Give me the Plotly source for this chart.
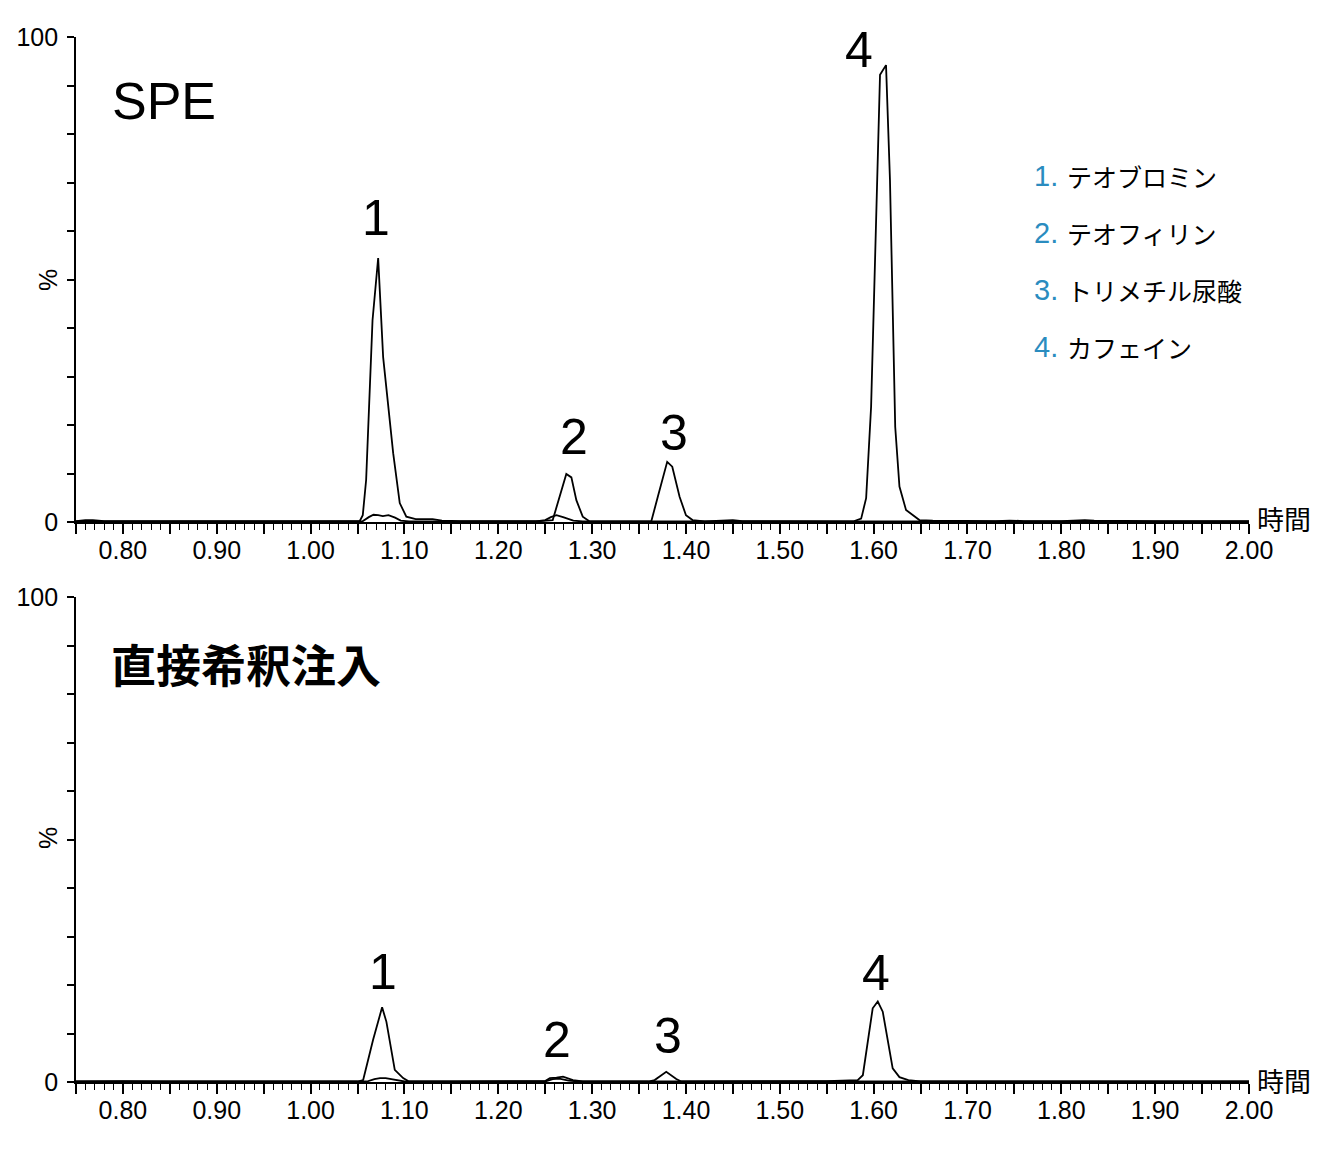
import plotly.graph_objects as go

# ---------------- data ----------------
# SPE panel, main trace (time [min], intensity [%])
spe_t = [0.750, 0.760, 0.768, 0.780, 0.850, 0.900, 0.950, 1.000, 1.045, 1.0524, 1.0556, 1.0592,
         1.066, 1.072, 1.0773, 1.088, 1.095, 1.102, 1.112, 1.130, 1.140, 1.160, 1.200, 1.245,
         1.258, 1.2654, 1.2725, 1.2779, 1.2832, 1.290, 1.2974, 1.310, 1.350, 1.363, 1.370, 1.380,
         1.3854, 1.3932, 1.400, 1.407, 1.420, 1.440, 1.450, 1.460, 1.500, 1.570, 1.578, 1.5867,
         1.592, 1.5973, 1.6068, 1.6132, 1.6174, 1.623, 1.6275, 1.6345, 1.6488, 1.663, 1.700,
         1.730, 1.745, 1.760, 1.800, 1.815, 1.825, 1.835, 1.870, 1.900, 1.950, 2.000]
spe_v = [0.2, 0.4, 0.4, 0.2, 0.2, 0.2, 0.2, 0.2, 0.2, 0.2, 1.4, 8.7,
         41.6, 54.4, 34.0, 14.2, 3.9, 1.1, 0.6, 0.6, 0.3, 0.2, 0.2, 0.2,
         0.4, 5.2, 9.9, 9.2, 4.5, 1.1, 0.1, 0.1, 0.1, 0.1, 5.2, 12.4,
         11.4, 5.2, 1.4, 0.4, 0.1, 0.2, 0.4, 0.2, 0.2, 0.1, 0.1, 0.7,
         4.9, 23.8, 92.2, 94.2, 70.5, 19.6, 7.3, 2.5, 0.4, 0.3, 0.2,
         0.2, 0.3, 0.2, 0.2, 0.3, 0.4, 0.3, 0.2, 0.2, 0.2, 0.2]

# SPE panel, secondary trace
spe2_t = [0.750, 1.055, 1.062, 1.067, 1.072, 1.077, 1.083, 1.090, 1.096, 1.105, 1.240, 1.250,
          1.256, 1.262, 1.269, 1.280, 1.290, 2.000]
spe2_v = [0.1, 0.1, 1.0, 1.5, 1.4, 1.2, 1.4, 0.9, 0.3, 0.1, 0.1, 0.4,
          1.0, 1.4, 1.0, 0.3, 0.1, 0.1]

# Direct dilution panel, main trace
dil_t = [0.750, 0.800, 0.850, 0.900, 1.000, 1.050, 1.056, 1.0666, 1.0762, 1.0808, 1.0897, 1.0986,
         1.104, 1.150, 1.250, 1.255, 1.262, 1.269, 1.2796, 1.290, 1.360, 1.3666, 1.379, 1.3897,
         1.395, 1.500, 1.550, 1.583, 1.5885, 1.599, 1.6044, 1.6097, 1.6203, 1.6275, 1.637, 1.650,
         1.700, 1.800, 1.900, 2.000]
dil_v = [0.1, 0.2, 0.1, 0.1, 0.1, 0.1, 0.4, 8.7, 15.4, 12.4, 2.5, 0.8,
         0.2, 0.1, 0.2, 0.8, 0.9, 1.1, 0.4, 0.1, 0.1, 0.4, 2.1, 0.6,
         0.1, 0.1, 0.2, 0.4, 1.4, 15.2, 16.6, 14.5, 2.8, 1.0, 0.4, 0.1,
         0.1, 0.1, 0.1, 0.1]

# Direct dilution panel, secondary trace
dil2_t = [0.750, 1.060, 1.068, 1.074, 1.080, 1.090, 1.100, 1.250, 1.258, 1.265, 1.275, 1.285, 2.000]
dil2_v = [0.1, 0.1, 0.6, 0.8, 0.8, 0.4, 0.1, 0.1, 0.6, 0.7, 0.3, 0.1, 0.1]

# peak labels (label centre positions)
spe_peak_labels = ["1", "2", "3", "4"]
spe_peak_t = [1.0697, 1.2807, 1.3873, 1.5844]
spe_peak_y = [62.7, 17.5, 18.4, 97.3]
dil_peak_labels = ["1", "2", "3", "4"]
dil_peak_t = [1.0772, 1.2626, 1.3808, 1.6025]
dil_peak_y = [22.7, 8.7, 9.5, 22.5]

legend_nums = ["1.", "2.", "3.", "4."]
legend_names = ["テオブロミン", "テオフィリン", "トリメチル尿酸", "カフェイン"]

x_major = [0.75 + 0.05 * i for i in range(26)]
x_labels = ["" if i % 2 == 0 else f"{0.75 + 0.05 * i:.2f}" for i in range(26)]
y_ticks = list(range(0, 101, 10))
y_labels = ["0", "", "", "", "", "", "", "", "", "", "100"]

# ---------------- figure ----------------
W, H = 1333, 1150
OFF = 8  # page margin around the plot div
FONT = "Liberation Sans, Arial, Noto Sans CJK JP"
JFONT = "Noto Sans CJK JP, Liberation Sans"

def px_x(x):
    return (x - OFF) / W

def px_y(y):
    return 1 - (y - OFF) / H

fig = go.Figure()
line = dict(color="black", width=1.8)
fig.add_trace(go.Scatter(x=spe2_t, y=spe2_v, mode="lines", line=line, xaxis="x", yaxis="y", hoverinfo="skip"))
fig.add_trace(go.Scatter(x=spe_t, y=spe_v, mode="lines", line=line, xaxis="x", yaxis="y"))
fig.add_trace(go.Scatter(x=dil2_t, y=dil2_v, mode="lines", line=line, xaxis="x2", yaxis="y2", hoverinfo="skip"))
fig.add_trace(go.Scatter(x=dil_t, y=dil_v, mode="lines", line=line, xaxis="x2", yaxis="y2"))

xdom = [px_x(76), px_x(1249)]
top_dom = [px_y(522), px_y(37)]
bot_dom = [px_y(1082), px_y(597)]

def xaxis_cfg(anchor):
    return dict(domain=xdom, range=[0.75, 2.0], anchor=anchor, showline=True, linecolor="black",
                linewidth=1.6, ticks="outside", ticklen=10, tickwidth=1.6, tickcolor="black",
                tickmode="array", tickvals=x_major, ticktext=x_labels, showgrid=False, zeroline=False,
                automargin=False, ticklabelstandoff=-5,
                tickfont=dict(family=FONT, size=25, color="black"),
                minor=dict(ticks="outside", ticklen=6, tickwidth=1.4, tickcolor="black",
                           tickmode="linear", tick0=0.75, dtick=0.01, showgrid=False))

def yaxis_cfg(anchor, dom):
    return dict(domain=dom, range=[0, 100], anchor=anchor, showline=True, linecolor="black",
                linewidth=1.6, ticks="outside", ticklen=7, tickwidth=1.6, tickcolor="black",
                tickmode="array", tickvals=y_ticks, ticktext=y_labels, showgrid=False, zeroline=False,
                automargin=False,
                tickfont=dict(family=FONT, size=25, color="black"), ticklabelstandoff=4)

fig.update_layout(
    template="none",
    width=W, height=H, margin=dict(l=0, r=0, t=0, b=0, autoexpand=False),
    paper_bgcolor="white", plot_bgcolor="white", showlegend=False,
    xaxis=xaxis_cfg("y"), yaxis=yaxis_cfg("x", top_dom),
    xaxis2=xaxis_cfg("y2"), yaxis2=yaxis_cfg("x2", bot_dom),
)

ann = []
# panel titles
ann.append(dict(x=px_x(110), y=px_y(101), xref="paper", yref="paper", text="SPE", showarrow=False,
                xanchor="left", yanchor="middle", font=dict(family=FONT, size=52, color="black")))
ann.append(dict(x=px_x(109), y=px_y(663), xref="paper", yref="paper", text="<b>直接希釈注入</b>",
                showarrow=False, xanchor="left", yanchor="middle",
                font=dict(family=JFONT, size=45, color="black")))
# % labels
for yy in [280, 838]:
    ann.append(dict(x=px_x(48), y=px_y(yy), xref="paper", yref="paper", text="%", showarrow=False,
                    textangle=-90, xanchor="center", yanchor="middle",
                    font=dict(family=FONT, size=25, color="black")))
# time axis titles
for yy in [518, 1080]:
    ann.append(dict(x=px_x(1255), y=px_y(yy), xref="paper", yref="paper", text="時間", showarrow=False,
                    xanchor="left", yanchor="middle", font=dict(family=JFONT, size=27, color="black")))
# peak labels
for lab, t, v in zip(spe_peak_labels, spe_peak_t, spe_peak_y):
    ann.append(dict(x=t, y=v, xref="x", yref="y", text=lab, showarrow=False, yanchor="middle",
                    font=dict(family=FONT, size=50, color="black")))
for lab, t, v in zip(dil_peak_labels, dil_peak_t, dil_peak_y):
    ann.append(dict(x=t, y=v, xref="x2", yref="y2", text=lab, showarrow=False, yanchor="middle",
                    font=dict(family=FONT, size=50, color="black")))
# legend
leg_y = [176, 233, 290, 347]
for num, name, yy in zip(legend_nums, legend_names, leg_y):
    ann.append(dict(x=px_x(1032), y=px_y(yy), xref="paper", yref="paper", text=num, showarrow=False,
                    xanchor="left", yanchor="middle", font=dict(family=FONT, size=29, color="#2a8cbf")))
    ann.append(dict(x=px_x(1065), y=px_y(yy), xref="paper", yref="paper", text=name, showarrow=False,
                    xanchor="left", yanchor="middle", font=dict(family=JFONT, size=25, color="black")))

fig.update_layout(annotations=ann)
fig.write_html("out.html")
